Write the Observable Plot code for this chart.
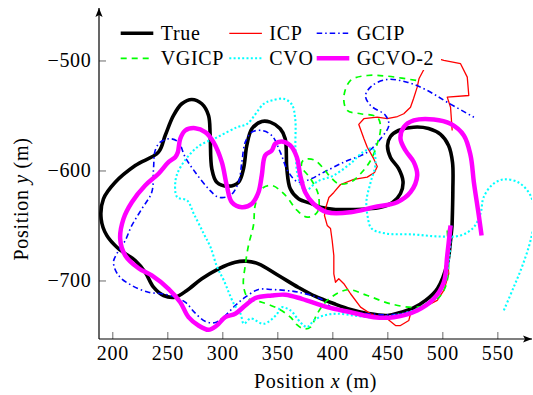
<!DOCTYPE html>
<html>
<head>
<meta charset="utf-8">
<script src="https://cdn.jsdelivr.net/npm/d3@7"></script>
<script src="https://cdn.jsdelivr.net/npm/@observablehq/plot@0.6"></script>
<style>
  body { margin: 0; background: #fff; }
  #chart svg { display: block; }
</style>
</head>
<body>
<div id="chart"></div>
<script>
// Estimated and reference trajectories, [x, y] in metres.
const truePath = [
  [508.4,-649.5],[507.0,-663.2],[504.3,-683.2],[495.2,-706.8],[484.3,-717.7],[472.4,-725],[461.5,-728.6],
  [449.7,-731.4],[431.5,-729.5],[416.1,-725.9],[400.6,-720.5],[384.3,-714.1],[368.8,-705.9],[350.6,-695],
  [332.4,-684.4],[321.8,-682],[311.3,-682.9],[296.1,-688.9],[280.9,-698],[267.3,-708.6],[256.7,-714.7],
  [246.1,-713.2],[237,-705.6],[229.4,-692],[220.4,-681.4],[205.2,-670.7],[194.5,-658.6],[189.4,-643.5],
  [191.5,-625.3],[202.2,-610.2],[220.4,-595],[241.5,-582.9],[247.6,-567.7],[255.2,-549.5],[262.7,-538.9],
  [271.8,-535],[280.9,-538.9],[287,-549.5],[288.5,-567.7],[290,-598],[294.5,-610.2],[305.2,-613.8],
  [314.3,-610.2],[318.8,-598],[321.8,-576.8],[326.4,-561.6],[335.4,-555],[343.1,-555.6],[352.2,-561.6],
  [356.7,-570.7],[358.2,-598],[361.3,-616.2],[368.8,-625.3],[380.9,-629.8],[388.8,-632.9],[402.4,-635],
  [416.1,-635],[429.7,-634.5],[443.4,-632.9],[454.3,-628.6],[461.5,-620.5],[463.8,-609.5],[459.7,-597.7],
  [452.4,-587.7],[449.7,-576.8],[452.4,-568.6],[459.7,-563.2],[473.4,-560.2],[487,-561.4],[497.9,-566.8],
  [505.2,-576.8],[508.8,-592.3],[509.1,-617.7],[508.4,-649.5]
];

const icpPath = [
  [505.2,-652.3],[504,-678.4],[505.4,-693.5],[500.9,-708.6],[494.9,-717.7],[479.7,-725.3],[470.6,-729.8],
  [469.1,-735.9],[461.5,-740.5],[457,-740.5],[449.4,-734.4],[434.3,-729.8],[425.2,-723.8],[416.1,-711.6],
  [410,-702.5],[405.4,-698],[402.4,-701.1],[400.9,-693.5],[400.9,-676.8],[399.4,-663.2],[397.9,-652.3],
  [394.9,-649.5],[392.4,-640.5],[393.4,-634.1],[396.4,-624.1],[400.9,-619.5],[407,-612.3],[419.1,-607.7],
  [431.3,-605.6],[437.9,-601.4],[440.4,-595.9],[437,-588.6],[431.3,-578.4],[428.2,-570.5],[423.6,-557.7],
  [428.2,-552.5],[440.4,-551.1],[449.4,-552.5],[458.8,-550.5],[464.5,-548],[470.6,-542],[473.4,-534.1],
  [476.7,-523.8],[478.4,-515.9],[481.3,-510.5],[485.2,-503.2],[491.5,-496.8],[500.9,-499.5],[516.1,-502.5],
  [522.2,-514.7],[523.6,-531.4],[504,-532.9],[507,-542],[508.5,-563.2]
];

const gcipPath = [
  [507.9,-649.5],[507.0,-663.2],[504,-682.9],[497.9,-707.1],[482.7,-722.3],[461.5,-729.8],[431.3,-729.8],
  [400.9,-725.3],[388.8,-716.2],[368.8,-710.2],[356.7,-708.6],[344.5,-707.7],[332.4,-707.7],[320.4,-714.7],
  [311.3,-722.3],[302.2,-731.4],[293.4,-737.7],[284.3,-736.8],[275.2,-729.5],[266.1,-719.5],[257,-714.7],
  [244.5,-711.6],[232.4,-710.2],[217.3,-704.1],[205.2,-695],[200.6,-682.9],[204.3,-674.1],[211.3,-663.2],
  [217.3,-649.5],[226.4,-634.4],[235.4,-619.3],[237,-598],[238.5,-581.4],[243.1,-573.8],[252.2,-570.7],
  [259.7,-573.8],[265.8,-587.5],[274.9,-601.1],[287,-616.2],[296.1,-623.8],[306.7,-622.3],[314.3,-610.2],
  [317.3,-592],[320.4,-573.8],[326.4,-564.7],[335.4,-563.2],[344.5,-567.7],[352.2,-582.9],[359.7,-601.1],
  [368.8,-610.2],[380.9,-606.8],[388.8,-602.7],[410,-592],[431.3,-582.9],[443.4,-570.7],[450.9,-558.6],
  [447.9,-549.5],[434.3,-540.5],[429.7,-531.4],[435.8,-522.3],[449.4,-516.8],[467.6,-519.3],[485.8,-526.8],
  [504,-537.5],[528.2,-551.1]
];

const vgicpPath = [
  [504,-654.1],[505.4,-681.4],[504,-699.5],[500.9,-708.6],[494.9,-716.2],[476.7,-723.8],[452.4,-720.7],
  [431.3,-713.2],[413.1,-708],[394.9,-717.7],[385.8,-729.8],[379.7,-742],[373.6,-743.5],[367,-739.5],
  [361.5,-732.9],[350.6,-725.3],[335.4,-719.3],[323.4,-716.2],[318.8,-704.1],[320.4,-685.9],[323.4,-667.3],
  [327.9,-649.1],[329.4,-631.4],[335.4,-616.2],[344.5,-613.2],[357,-622.3],[367.6,-635.9],[376.7,-642],
  [385.8,-637.5],[387,-622.3],[379.7,-606.8],[371.5,-595.9],[373.4,-590],[382.7,-589.8],[391.8,-598],
  [397.9,-605.6],[405.4,-611.6],[416.1,-610.2],[425.2,-602.5],[434.3,-590.5],[440.4,-575.3],[443.4,-560.2],
  [440.4,-551.1],[425.2,-548],[413.1,-545],[410,-532.9],[416.1,-517.7],[431.3,-513.2],[449.4,-513.8],
  [479.7,-518.4]
];

const cvoPath = [
  [507,-652.3],[506.1,-676.8],[500.6,-704.1],[488.8,-717.7],[473.4,-726.8],[455.4,-731.4],[443.4,-732.9],
  [431.3,-732.9],[419.1,-731.4],[404,-729.8],[391.8,-731.4],[382.7,-735.9],[376.7,-742],[370.6,-737.7],
  [361.5,-726.8],[352.4,-723.8],[349.4,-729.8],[337.3,-738.9],[325.2,-734.1],[319.1,-738.9],[316.1,-729.8],
  [310,-720.7],[300.9,-699.5],[294.9,-687.5],[288.8,-669.3],[282.7,-657.1],[273.6,-638.9],[267.6,-626.8],
  [258.5,-623.8],[257,-608.6],[261.5,-596.5],[276.7,-578.4],[294.9,-569.3],[313.1,-560.2],[322.2,-557.1],
  [337.3,-538.9],[344.5,-535.9],[355.4,-534.4],[362.7,-539.5],[365.8,-552.5],[366.1,-581.4],[368.8,-607.1],
  [375.2,-617.7],[386.1,-609.5],[400.6,-604.1],[416.1,-593.2],[427,-583.2],[436.1,-579.5],[438.8,-593.2],
  [434.3,-610.5],[430.6,-626.8],[431.5,-640.5],[435.2,-652.3],[447.9,-656.8],[473.4,-657.7],[495.2,-659.5],
  [516.1,-658.6],[527.9,-651.4],[534.3,-638.6],[537,-624.1],[545.2,-612.3],[555.2,-607.7],[568.8,-610.5],
  [579.7,-622.3],[583.4,-640.5],[579.7,-663.2],[572.4,-685.9],[564.3,-705.9],[555.4,-726.8]
];

const gcvo2Path = [
  [507,-649.5],[504,-676.8],[500.9,-701.1],[491.8,-716.2],[476.7,-726.8],[455.4,-732.9],[437.3,-732.9],
  [416.1,-728.4],[394.9,-723.8],[371.8,-716.2],[356.7,-712.5],[344.5,-713.2],[329.4,-715.6],[320.4,-722.3],
  [311.3,-729.8],[302.2,-732.9],[294.5,-740.5],[287,-744.4],[277.9,-740.5],[268.8,-732.9],[261.3,-719.3],
  [250.6,-707.1],[235.4,-695],[223.4,-688.4],[211.3,-676.8],[206.7,-661.6],[209.7,-643.5],[217.3,-628.4],
  [229.4,-613.2],[241.5,-602.5],[250.6,-592],[256.7,-587.5],[259.1,-582.9],[261.3,-570.7],[265.8,-563.2],
  [274.9,-561.1],[284,-564.7],[291.5,-573.8],[299.1,-592],[303.6,-613.2],[308.2,-628.4],[317.3,-632.9],
  [326.4,-629.8],[332.4,-619.3],[335.4,-604.1],[338.5,-585.9],[344.5,-581.4],[347.6,-575.3],[353.6,-573.2],
  [361.3,-576.8],[367.3,-587.5],[370.4,-604.1],[374.9,-619.3],[382.4,-629.8],[394.9,-637.5],[416.1,-637.5],
  [437.3,-632.9],[458.5,-628.4],[470.6,-619.3],[476.7,-604.1],[473.6,-592],[466.1,-581.4],[461.5,-570.7],
  [464.5,-560.2],[473.6,-554.1],[491.8,-553.2],[507,-557.1],[519.1,-567.7],[525.2,-585.9],[528.2,-610.2],
  [532.7,-640.5],[535.2,-658.6]
];

const seriesNames = ["True", "ICP", "GCIP", "VGICP", "CVO", "GCVO-2"];
const seriesPaths = [truePath, icpPath, gcipPath, vgicpPath, cvoPath, gcvo2Path];
const xTicks = [200, 250, 300, 350, 400, 450, 500, 550];
const yTicks = [-700, -600, -500];

// Line style for each series (same order as seriesNames).
const lineStyles = [
  {stroke: "#000000", width: 3.6, dash: null,          curve: "catmull-rom"},
  {stroke: "#ff0000", width: 1.3, dash: null,          curve: "linear"},
  {stroke: "#0000ff", width: 1.6, dash: "5.5,3,1.5,3", curve: "catmull-rom"},
  {stroke: "#00ff00", width: 1.7, dash: "6,5",         curve: "catmull-rom"},
  {stroke: "#00ffff", width: 2.1, dash: "2,2.3",       curve: "catmull-rom"},
  {stroke: "#ff00ff", width: 4.5, dash: null,          curve: "catmull-rom"}
];

const FONT = "Liberation Serif, DejaVu Serif, serif";
const FS = 20;
const LS = "0.7px";

const lineMarks = seriesPaths.map((path, i) => {
  const s = lineStyles[i];
  return Plot.line(path, {
    x: d => d[0], y: d => d[1],
    stroke: s.stroke, strokeWidth: s.width,
    strokeDasharray: s.dash, strokeLinecap: "butt", strokeLinejoin: "round",
    curve: s.curve, clip: true
  });
});

const chart = Plot.plot({
  width: 533,
  height: 395,
  marginLeft: 99,
  marginRight: 1,
  marginTop: 8,
  marginBottom: 56,
  x: {domain: [187.9, 581.5]},
  y: {domain: [-753.2, -452.3]},
  style: {fontFamily: FONT, fontSize: FS + "px", background: "white", color: "black"},
  marks: [
    ...lineMarks,
    Plot.axisX(xTicks, {tickSize: -7, tickPadding: 13, stroke: "#444", strokeWidth: 0.8, label: null}),
    Plot.axisY(yTicks, {tickSize: -7, tickPadding: 15, stroke: "#444", strokeWidth: 0.8, label: null})
  ]
});

document.getElementById("chart").appendChild(chart);

// Serif face for every tick label as well.
const svg = d3.select(chart).style("letter-spacing", LS);
svg.selectAll("text").attr("font-family", FONT).attr("font-size", FS);

// Axis lines with arrow heads, legend and axis titles.
const xs = chart.scale("x"), ys = chart.scale("y");
const [x0, x1] = xs.range;
const [y0, y1] = ys.range; // bottom, top

const defs = svg.append("defs");
defs.append("marker")
  .attr("id", "axis-arrow")
  .attr("viewBox", "-10 -5 11 10")
  .attr("markerUnits", "userSpaceOnUse")
  .attr("markerWidth", 11).attr("markerHeight", 10)
  .attr("refX", 0).attr("refY", 0)
  .attr("orient", "auto")
  .append("path")
  .attr("d", "M0,0L-9,-3.6L-7,0L-9,3.6Z")
  .attr("fill", "black");

const axes = svg.append("g").attr("stroke", "black").attr("stroke-width", 1.2);
axes.append("line").attr("x1", x0).attr("y1", y0).attr("x2", x0).attr("y2", y1)
  .attr("marker-end", "url(#axis-arrow)");
axes.append("line").attr("x1", x0).attr("y1", y0).attr("x2", x1).attr("y2", y0)
  .attr("marker-end", "url(#axis-arrow)");

// Axis titles
const xt = svg.append("text")
  .attr("x", (x0 + x1) / 2).attr("y", 388)
  .attr("text-anchor", "middle")
  .attr("font-family", FONT).attr("font-size", FS).attr("fill", "black");
xt.append("tspan").text("Position ");
xt.append("tspan").attr("font-style", "italic").text("x");
xt.append("tspan").text(" (m)");

const yt = svg.append("text")
  .attr("transform", "translate(28,199) rotate(-90)")
  .attr("text-anchor", "middle")
  .attr("font-family", FONT).attr("font-size", FS).attr("fill", "black");
yt.append("tspan").text("Position ");
yt.append("tspan").attr("font-style", "italic").text("y");
yt.append("tspan").text(" (m)");

// Legend: three columns, two rows, on a white box
const legend = svg.append("g")
  .attr("font-family", FONT).attr("font-size", FS).attr("text-anchor", "start");
legend.append("rect").attr("x", 113).attr("y", 17).attr("width", 328).attr("height", 53).attr("fill", "white");
const colX = [120.7, 229.3, 316.7];
const rowY = [33.3, 58.3];
seriesNames.forEach((name, i) => {
  const s = lineStyles[i];
  const cx = colX[i % 3], cy = rowY[Math.floor(i / 3)];
  legend.append("line")
    .attr("x1", cx).attr("x2", cx + 32.6).attr("y1", cy).attr("y2", cy)
    .attr("stroke", s.stroke).attr("stroke-width", s.width)
    .attr("stroke-dasharray", s.dash);
  legend.append("text")
    .attr("x", cx + 40).attr("y", cy + 6.5)
    .attr("text-anchor", "start")
    .attr("fill", "black").text(name);
});
</script>
</body>
</html>
